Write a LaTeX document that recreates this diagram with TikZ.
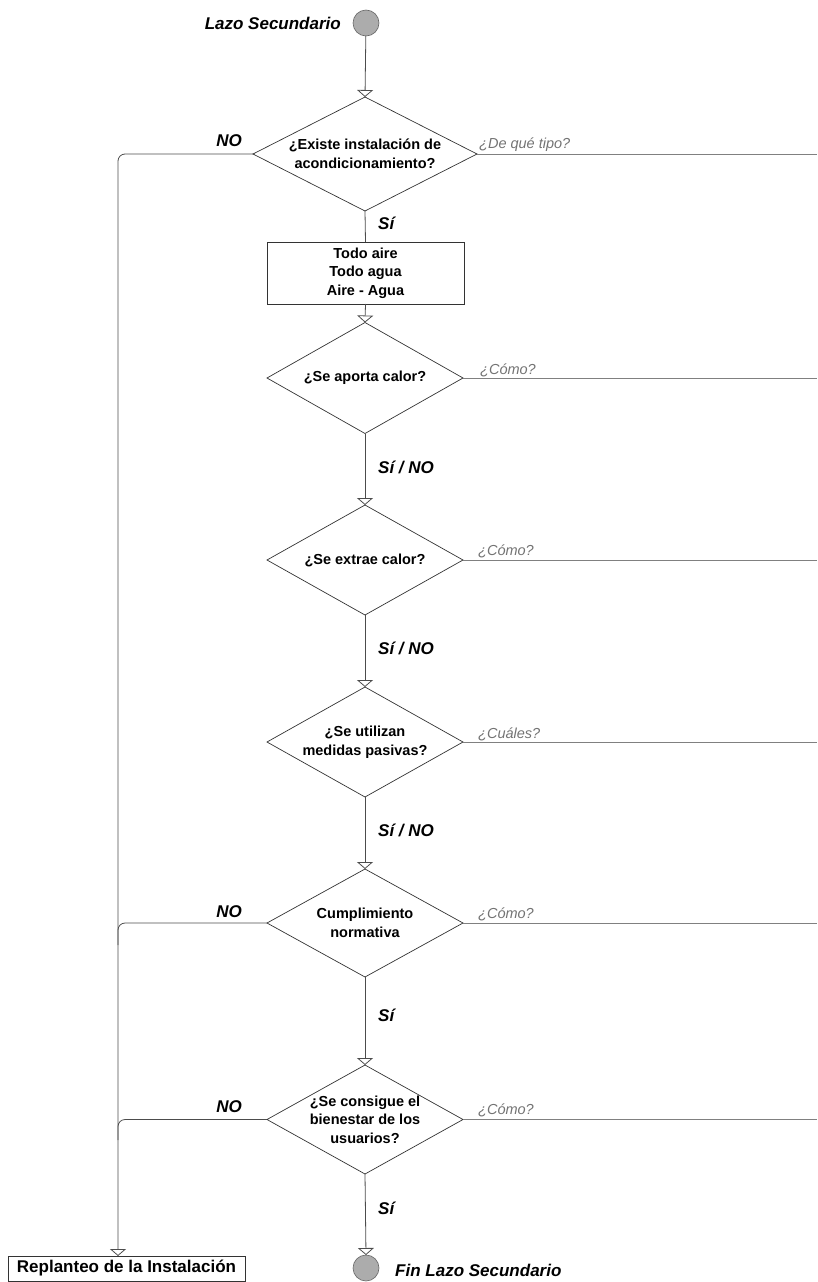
\documentclass[tikz,border=0pt]{standalone}
\usepackage{fontspec}
\setmainfont{Liberation Sans}
\usetikzlibrary{shapes.geometric, arrows.meta}
\begin{document}
\begin{tikzpicture}[x=1pt,y=-1pt,
  flow/.style={draw=black!70, line width=0.8pt},
  side/.style={draw=black!50, line width=0.9pt},
  tip/.style={-{Triangle[open,width=16pt,length=7pt]}},
  dia/.style={diamond, draw=black!80, line width=0.7pt, inner sep=0pt, outer sep=0pt, minimum width=196pt, minimum height=110pt},
  ntext/.style={font=\fontsize{14.5}{19}\selectfont\bfseries, align=center, inner sep=0pt},
  lbl/.style={font=\fontsize{17}{20}\selectfont\bfseries\itshape, inner sep=0pt},
  glbl/.style={font=\fontsize{14.5}{17}\selectfont\itshape, text=black!55, inner sep=0pt, anchor=base west},
  term/.style={circle, fill=gray!65, draw=black!60, line width=0.6pt, minimum size=26pt, inner sep=0pt, outer sep=0pt},
  rbox/.style={rectangle, draw=black!80, line width=0.7pt, inner sep=0pt, outer sep=0pt}
]
\useasboundingbox (0,0) rectangle (817,1282);

% terminals
\node[term] (start) at (366,23) {};
\node[lbl, anchor=east] (tstart) at (341,23) {Lazo Secundario};
\node[term] (fin) at (366,1268) {};
\node[lbl, anchor=west] (tfin) at (395,1270) {Fin Lazo Secundario};

% decisions
\node[dia, minimum width=224pt, minimum height=114pt] (d1) at (365,154) {};
\node[ntext] (t1) at (d1) {¿Existe instalación de\\acondicionamiento?};
\node[rbox, ntext, minimum width=197pt, minimum height=62pt, font=\fontsize{14.5}{18.5}\selectfont\bfseries] (b1) at (365.5,273) {Todo aire\\Todo agua\\Aire - Agua};
\node[dia, minimum height=111pt] (d2) at (365,378) {};
\node[ntext] (t2) at (d2) {¿Se aporta calor?};
\node[dia] (d3) at (365,560) {};
\node[ntext] (t3) at (d3) {¿Se extrae calor?};
\node[dia] (d4) at (365,742) {};
\node[ntext] (t4) at (d4) {¿Se utilizan\\medidas pasivas?};
\node[dia, minimum height=108pt] (d5) at (365,923) {};
\node[ntext] (t5) at (d5) {Cumplimiento\\normativa};
\node[dia, minimum height=109pt] (d6) at (365,1119.5) {};
\node[ntext, font=\fontsize{14.5}{18.5}\selectfont\bfseries] (t6) at (d6) {¿Se consigue el\\bienestar de los\\usuarios?};

\node[rbox, minimum width=237pt, minimum height=25pt, font=\fontsize{17}{20}\selectfont\bfseries] (rep) at (126.5,1268.5) {Replanteo de la Instalación};

% main flow
\draw[flow, tip] (start) -- (d1.north);
\draw[flow] (d1.south) -- (b1.north);
\draw[flow, tip] (b1.south) -- (d2.north);
\draw[flow, tip] (d2.south) -- (d3.north);
\draw[flow, tip] (d3.south) -- (d4.north);
\draw[flow, tip] (d4.south) -- (d5.north);
\draw[flow, tip] (d5.south) -- (d6.north);
\draw[flow, tip] (d6.south) -- (fin.north);

% NO branch
\coordinate (rtop) at (118,1256);
\coordinate (j5) at (118,945);
\coordinate (j6) at (118,1140);
\draw[flow, tip, rounded corners=7pt] (d1.west) -| (rtop);
\draw[flow, rounded corners=7pt] (d5.west) -| (j5);
\draw[flow, rounded corners=7pt] (d6.west) -| (j6);

% side lines
\coordinate (edge) at (817,0);
\draw[side] (d1.east) -- (d1.east -| edge);
\draw[side] (d2.east) -- (d2.east -| edge);
\draw[side] (d3.east) -- (d3.east -| edge);
\draw[side] (d4.east) -- (d4.east -| edge);
\draw[side] (d5.east) -- (d5.east -| edge);
\draw[side] (d6.east) -- (d6.east -| edge);

% labels
\node[lbl] (no1) at (229,141) {NO};
\node[lbl] (no5) at (229,912) {NO};
\node[lbl] (no6) at (229,1107) {NO};
\node[lbl, anchor=west] (si1) at (378,223) {Sí};
\node[lbl, anchor=west] (si2) at (378,467) {Sí / NO};
\node[lbl, anchor=west] (si3) at (378,648) {Sí / NO};
\node[lbl, anchor=west] (si4) at (378,830) {Sí / NO};
\node[lbl, anchor=west] (si5) at (378,1015) {Sí};
\node[lbl, anchor=west] (si6) at (378,1208) {Sí};

\node[glbl] (g1) at (479,148) {¿De qué tipo?};
\node[glbl] (g2) at (480,374) {¿Cómo?};
\node[glbl] (g3) at (478,555) {¿Cómo?};
\node[glbl] (g4) at (478,738) {¿Cuáles?};
\node[glbl] (g5) at (478,918) {¿Cómo?};
\node[glbl] (g6) at (478,1114) {¿Cómo?};
\end{tikzpicture}
\end{document}
